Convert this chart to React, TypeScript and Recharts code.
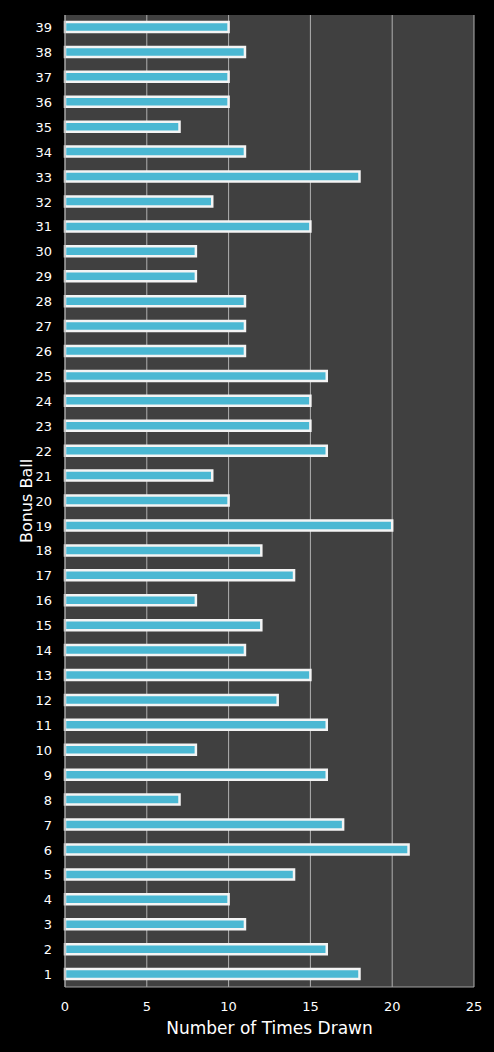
import { BarChart, Bar, XAxis, YAxis, CartesianGrid } from "recharts";

// Bonus ball numbers, drawn from 39 at the top down to 1 at the bottom
const balls = [
  "39", "38", "37", "36", "35", "34", "33", "32", "31", "30",
  "29", "28", "27", "26", "25", "24", "23", "22", "21", "20",
  "19", "18", "17", "16", "15", "14", "13", "12", "11", "10",
  "9", "8", "7", "6", "5", "4", "3", "2", "1",
];

const timesDrawn = [
  10, 11, 10, 10, 7, 11, 18, 9, 15, 8,
  8, 11, 11, 11, 16, 15, 15, 16, 9, 10,
  20, 12, 14, 8, 12, 11, 15, 13, 16, 8,
  16, 7, 17, 21, 14, 10, 11, 16, 18,
];

const xTicks = [0, 5, 10, 15, 20, 25];

const data = balls.map((ball, i) => ({ ball, drawn: timesDrawn[i] }));

const FONT = "'DejaVu Sans', Verdana, sans-serif";

export default function App() {
  return (
    <div
      style={{
        position: "fixed",
        top: 0,
        left: 0,
        width: 494,
        height: 1052,
        background: "#000",
        fontFamily: FONT,
      }}
    >
      <BarChart
        layout="vertical"
        width={494}
        height={1052}
        data={data}
        margin={{ top: 15, right: 20, left: 25, bottom: 10 }}
        barCategoryGap={6}
      >
        <CartesianGrid
          horizontal={false}
          vertical={true}
          stroke="#b0b0b0"
          fill="#404040"
          fillOpacity={1}
        />
        <XAxis
          type="number"
          domain={[0, 25]}
          ticks={xTicks}
          tickLine={false}
          axisLine={{ stroke: "#a0a0a0" }}
          tick={{ fill: "#fff", fontSize: 13, fontFamily: FONT }}
          tickMargin={9}
          height={55}
          label={{
            value: "Number of Times Drawn",
            position: "insideBottom",
            offset: 8,
            fill: "#fff",
            fontSize: 17,
            fontFamily: FONT,
          }}
        />
        <YAxis
          type="category"
          dataKey="ball"
          width={40}
          interval={0}
          tickLine={false}
          axisLine={{ stroke: "#a0a0a0" }}
          tick={{ fill: "#fff", fontSize: 13, fontFamily: FONT }}
          tickMargin={7}
          label={{
            value: "Bonus Ball",
            angle: -90,
            position: "insideLeft",
            offset: 1,
            fill: "#fff",
            fontSize: 16,
            fontFamily: FONT,
            style: { textAnchor: "middle" },
          }}
        />
        <Bar
          dataKey="drawn"
          fill="#4bb8d3"
          stroke="#f4f4f4"
          strokeWidth={2.5}
          barSize={10}
          isAnimationActive={false}
        />
      </BarChart>
    </div>
  );
}
